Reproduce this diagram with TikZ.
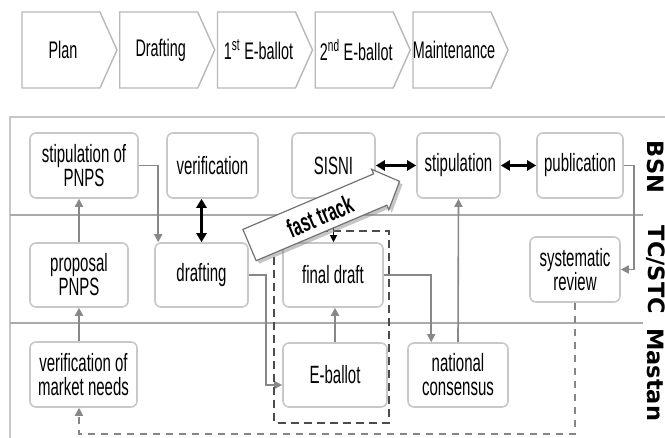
\documentclass[tikz,border=0pt]{standalone}
\usepackage{fontspec}
\setmainfont{Liberation Sans}[FakeStretch=0.6]
\newfontfamily\lanefont{DejaVu Sans}
\usetikzlibrary{positioning,calc}
\usetikzlibrary{arrows.meta,shadows}
\definecolor{BoxGray}{RGB}{200,200,200}
\definecolor{LinkGray}{RGB}{135,135,135}
\definecolor{LaneGray}{RGB}{170,170,170}
\tikzset{
	phasebox/.style={draw=black!28,fill=white,line width=1.4pt},
	phase/.style={inner sep=0pt,font=\fontsize{24}{24}\selectfont},
	box/.style={draw=BoxGray,fill=white,rounded corners=6pt,line width=1.6pt,align=center,
		minimum height=65pt,inner sep=2pt,font=\fontsize{25}{24}\selectfont},
	link/.style={draw=LinkGray,line width=1.6pt,-{Triangle[length=8pt,width=8pt]}},
	both/.style={draw=black,line width=2.4pt,{Triangle[length=9pt,width=10pt]}-{Triangle[length=9pt,width=10pt]}},
	lane/.style={rotate=-90,inner sep=0pt,font=\lanefont\bfseries\fontsize{22.5}{22.5}\selectfont},
	trackbox/.style={draw=black!55,fill=white,line width=1.2pt,
		drop shadow={shadow xshift=3pt,shadow yshift=-3pt,opacity=0.45}},
	track/.style={inner sep=0pt,font=\bfseries\fontsize{26}{26}\selectfont},
}
\begin{document}
\begin{tikzpicture}[x=1pt,y=-1pt]
\useasboundingbox (0,0) rectangle (665,438);
% phases
\foreach \n/\t [count=\i] in {phplan/Plan,phdraft/Drafting,phfirst/{1\textsuperscript{st} E-ballot},phsecond/{2\textsuperscript{nd} E-ballot},phmaint/Maintenance}
{
	\pgfmathsetmacro\x{22+97.75*(\i-1)}
	\draw[phasebox] (\x,12) -- ++(78,0) -- ++(17,38) -- ++(-17,38) -- ++(-78,0) -- cycle;
	\node[phase] (\n) at (\x+41,50) {\t};
}
% lanes
\draw[black!22,line width=1.5pt] (10,438) -- (10,117) -- (665,117);
\draw[LaneGray,line width=2pt] (10,215) -- (643,215);
\draw[LaneGray,line width=2pt] (10,323) -- (643,323);
\node[lane] (bsn) at (656,167) {BSN};
\node[lane] (tcstc) at (656,270) {TC/STC};
\node[lane,anchor=west] (mastan) at (656,328) {Mastan};
% boxes
\node[box,minimum width=108pt] (spnps) at (84,165.5) {stipulation of\\PNPS};
\node[box,minimum width=91pt] (verif) at (212.5,165.5) {verification};
\node[box,minimum width=83pt] (sisni) at (333.5,165.5) {SISNI};
\node[box,minimum width=83pt] (stip) at (458.5,165.5) {stipulation};
\node[box,minimum width=86pt] (publ) at (580,165.5) {publication};
\node[box,minimum width=98pt,minimum height=64pt] (ppnps) at (79,275) {proposal\\PNPS};
\node[box,minimum width=93pt,minimum height=64pt] (drafting) at (201.5,275) {drafting};
\node[box,minimum width=100pt,minimum height=64pt] (fdraft) at (333,275) {final draft};
\node[box,minimum width=90pt] (sysrev) at (575,269.5) {systematic\\review};
\node[box,minimum width=107pt] (vmarket) at (83.5,374.5) {verification of\\market needs};
\node[box,minimum width=104pt,minimum height=64pt] (eballot) at (335,375) {E-ballot};
\node[box,minimum width=100pt,minimum height=64pt] (natcons) at (458,375) {national\\consensus};
% links
\draw[link] (vmarket.north -| ppnps.south) -- (ppnps.south);
\draw[link] (ppnps.north) -- (spnps.south -| ppnps.north);
\draw[link] (spnps.east) -| ($(drafting.north west)+(4,0)$);
\draw[both] (drafting.north) -- (drafting.north |- verif.south);
\draw[link] (drafting.east) -- ++(17,0) |- ($(eballot.west)+(0,10)$);
\draw[link] (eballot.north) -- (eballot.north |- fdraft.south);
\draw[link] (fdraft.east) -| ($(natcons.north west)+(24,0)$);
\draw[link] (natcons.north) -- (stip.south);
\draw[both] (sisni.east) -- (stip.west);
\draw[both] (stip.east) -- (publ.west);
\draw[link] (publ.east) -- ++(10,0) |- (sysrev.east);
\draw[link,dash pattern=on 7pt off 6pt] (sysrev.south) -- ++(0,131) -| (vmarket.south -| ppnps.south);
% fast track
\draw[-{Triangle[length=7pt,width=7pt]},line width=1.2pt] (sisni.south) -- (sisni.south |- fdraft.north);
\draw[black!70,line width=1.6pt,dash pattern=on 8pt off 5pt] ($(fdraft.north west)+(-8,-11)$) rectangle ($(eballot.south east)+(1,15)$);
\begin{scope}[shift={(325,213)},rotate=23]
	\draw[trackbox] (-82,-17) -- (60,-17) -- (60,-22) -- (81,0) -- (60,22) -- (60,17) -- (-82,17) -- cycle;
	\node[track,rotate=23] (track) at (-6,1) {fast track};
\end{scope}
\end{tikzpicture}
\end{document}
